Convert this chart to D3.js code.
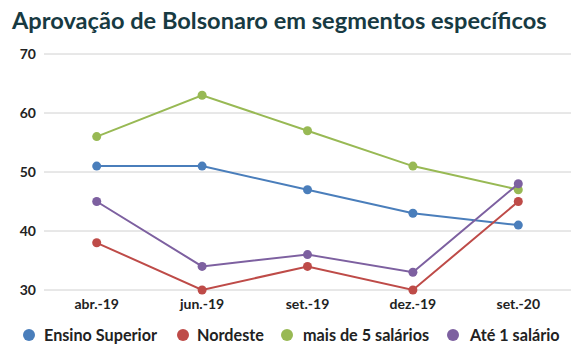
<!DOCTYPE html>
<html><head><meta charset="utf-8">
<script src="https://cdn.jsdelivr.net/npm/d3@7"></script>
<style>body{margin:0;background:#fff}svg{display:block}</style>
</head><body>
<script>
const categories = ["abr.-19","jun.-19","set.-19","dez.-19","set.-20"];
const seriesNames = ["Ensino Superior","Nordeste","mais de 5 salários","Até 1 salário"];
const ensinoSuperior = [51,51,47,43,41];
const nordeste = [38,30,34,30,45];
const mais5 = [56,63,57,51,47];
const ate1 = [45,34,36,33,48];
const yTicks = [30,40,50,60,70];
const colors = ["#4a7ebb","#be4b48","#98b954","#7d60a0"];
const series = [ensinoSuperior,nordeste,mais5,ate1];

const W=587,H=358;
const svg=d3.select("body").append("svg").attr("width",W).attr("height",H);
const font="Lato, 'Open Sans', sans-serif";
svg.append("text").attr("x",12).attr("y",29).attr("font-family",font).attr("font-weight",700)
  .attr("font-size",23.6).attr("fill","#173a42").text("Aprovação de Bolsonaro em segmentos específicos");

const x=d3.scaleBand().domain(categories).range([44,571]);
const y=d3.scaleLinear().domain([30,70]).range([290,54]);

const g=svg.append("g");
g.selectAll("line.grid").data(yTicks).join("line").attr("class","grid")
  .attr("x1",44).attr("x2",571).attr("y1",d=>y(d)).attr("y2",d=>y(d))
  .attr("stroke","#d0d0d0").attr("stroke-width",1);
g.selectAll("text.yt").data(yTicks).join("text").attr("class","yt")
  .attr("x",36).attr("y",d=>y(d)+5).attr("text-anchor","end")
  .attr("font-family",font).attr("font-weight",700).attr("font-size",14).attr("fill","#222").text(d=>d);
g.selectAll("text.xt").data(categories).join("text").attr("class","xt")
  .attr("x",d=>x(d)+x.bandwidth()/2).attr("y",309).attr("text-anchor","middle")
  .attr("font-family",font).attr("font-weight",700).attr("font-size",14).attr("fill","#222").text(d=>d);

const line=d3.line().x((d,i)=>x(categories[i])+x.bandwidth()/2).y(d=>y(d));
series.forEach((s,k)=>{
  g.append("path").attr("d",line(s)).attr("fill","none").attr("stroke",colors[k]).attr("stroke-width",2);
  g.selectAll("circle.s"+k).data(s).join("circle").attr("class","s"+k)
    .attr("cx",(d,i)=>x(categories[i])+x.bandwidth()/2).attr("cy",d=>y(d)).attr("r",4.5).attr("fill",colors[k]);
});

const legDot=[29,183,287,453];
const legTxt=[44,197,303,470];
const lg=svg.append("g");
seriesNames.forEach((n,k)=>{
  lg.append("circle").attr("cx",legDot[k]).attr("cy",335).attr("r",6).attr("fill",colors[k]);
  lg.append("text").attr("x",legTxt[k]).attr("y",341).attr("font-family",font).attr("font-weight",700)
    .attr("font-size",16.2).attr("fill","#222").text(n);
});
</script>
</body></html>
